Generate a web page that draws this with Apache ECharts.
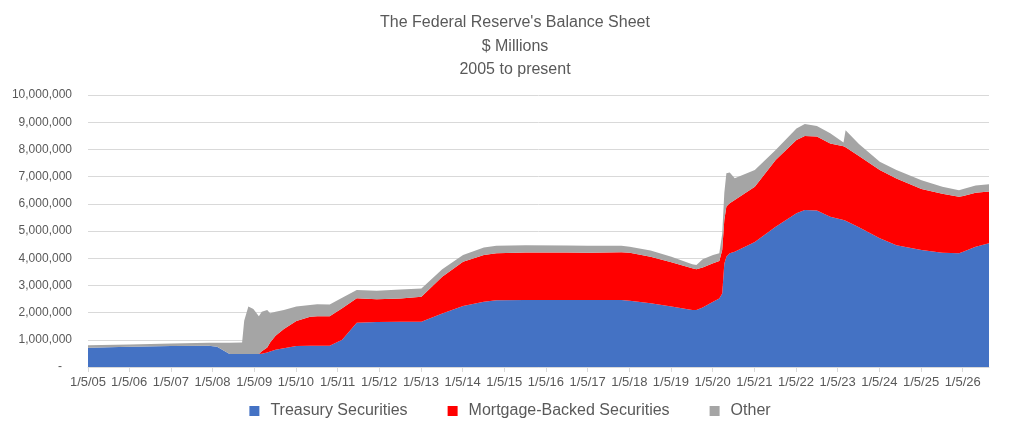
<!DOCTYPE html>
<html style="height: 100%">
<head>
  <meta charset="utf-8">
</head>
<body style="height: 100%; margin: 0; background: #fff;">
  <div id="container" style="width: 1020px; height: 437px;"></div>
  <script src="https://cdn.jsdelivr.net/npm/echarts@6/dist/echarts.min.js"></script>
  <script>
    // 日期用小数年表示 (2005.0 = 1/5/05)
    var dates = [
      2005.0, 2006.0, 2007.0, 2007.9, 2008.1, 2008.4, 2008.7, 2008.75, 2008.85, 2008.97,
      2009.1, 2009.17, 2009.3, 2009.37, 2009.5, 2009.7, 2010.0, 2010.33, 2010.5, 2010.8,
      2011.1, 2011.45, 2011.93, 2012.5, 2013.0, 2013.5, 2014.0, 2014.5, 2014.8, 2015.5,
      2016.5, 2017.0, 2017.8, 2018.0, 2018.5, 2019.0, 2019.5, 2019.6, 2019.75, 2020.0,
      2020.15, 2020.22, 2020.27, 2020.32, 2020.4, 2020.52, 2021.0, 2021.5, 2022.0, 2022.2,
      2022.49, 2022.81, 2023.13, 2023.18, 2023.5, 2024.0, 2024.4, 2025.0, 2025.5, 2025.9,
      2026.0, 2026.3, 2026.62
    ];
    var treasury = [
      710000, 740000, 770000, 780000, 740000, 480000, 480000, 480000, 480000, 480000,
      480000, 490000, 530000, 570000, 630000, 690000, 770000, 780000, 780000, 780000,
      1000000, 1630000, 1650000, 1660000, 1660000, 1970000, 2240000, 2400000, 2450000, 2460000,
      2460000, 2460000, 2460000, 2440000, 2340000, 2220000, 2100000, 2100000, 2190000, 2400000,
      2520000, 2700000, 3800000, 4050000, 4180000, 4240000, 4600000, 5160000, 5650000, 5770000,
      5750000, 5520000, 5400000, 5380000, 5140000, 4730000, 4480000, 4300000, 4200000, 4180000,
      4240000, 4420000, 4550000
    ];
    var mbs = [
      0, 0, 0, 0, 0, 0, 0, 0, 0, 0,
      0, 90000, 190000, 330000, 520000, 710000, 920000, 1070000, 1090000, 1090000,
      1160000, 900000, 840000, 860000, 920000, 1350000, 1630000, 1720000, 1730000, 1750000,
      1750000, 1740000, 1760000, 1760000, 1710000, 1630000, 1530000, 1490000, 1470000, 1410000,
      1380000, 1600000, 1600000, 1850000, 1840000, 1900000, 2030000, 2450000, 2700000, 2720000,
      2720000, 2700000, 2720000, 2700000, 2620000, 2510000, 2450000, 2240000, 2170000, 2080000,
      2050000, 1990000, 1900000
    ];
    var other = [
      90000, 90000, 90000, 110000, 150000, 410000, 420000, 1220000, 1740000, 1650000,
      1390000, 1450000, 1380000, 1080000, 880000, 700000, 530000, 430000, 440000, 430000,
      390000, 300000, 310000, 330000, 310000, 270000, 250000, 270000, 280000, 270000,
      260000, 260000, 240000, 220000, 230000, 200000, 150000, 160000, 300000, 310000,
      280000, 600000, 1000000, 1220000, 1130000, 800000, 610000, 370000, 420000, 440000,
      390000, 370000, 130000, 620000, 440000, 310000, 310000, 330000, 260000, 240000,
      250000, 260000, 270000
    ];
    var seriesNames = ['Treasury Securities', 'Mortgage-Backed Securities', 'Other'];
    var seriesColors = ['#4472C4', '#FF0000', '#A5A5A5'];

    var DAY = 86400000;
    // 小数年 -> 时间戳, 以每年 1 月 5 日为起点
    function toTime(y) {
      var yr = Math.floor(y + 1e-9);
      return Date.UTC(yr, 0, 5) + (y - yr) * 365.25 * DAY;
    }

    function pairs(vals) {
      return dates.map(function (d, i) { return [toTime(d), vals[i]]; });
    }

    function areaSeries(idx, vals) {
      return {
        name: seriesNames[idx],
        type: 'line',
        stack: 'total',
        showSymbol: false,
        symbol: 'none',
        lineStyle: { width: 0 },
        areaStyle: { color: seriesColors[idx], opacity: 1 },
        itemStyle: { color: seriesColors[idx] },
        emphasis: { disabled: true },
        data: pairs(vals)
      };
    }

    var chart = echarts.init(document.getElementById('container'));
    var option = {
      animation: false,
      textStyle: { fontFamily: 'Liberation Sans, Arial, sans-serif' },
      title: {
        text: "The Federal Reserve's Balance Sheet\n$ Millions\n2005 to present",
        left: 510,
        textAlign: 'center',
        top: 6,
        textStyle: {
          fontSize: 16,
          fontWeight: 'normal',
          color: '#595959',
          lineHeight: 23.5
        }
      },
      legend: {
        bottom: 13,
        left: 'center',
        icon: 'rect',
        itemWidth: 10,
        itemHeight: 10,
        itemGap: 40,
        textStyle: { fontSize: 16, color: '#595959', padding: [0, 0, 0, 6] },
        data: seriesNames
      },
      grid: {
        left: 88,
        right: 31,
        top: 95,
        bottom: 70
      },
      xAxis: {
        type: 'time',
        min: toTime(dates[0]),
        max: toTime(dates[dates.length - 1]),
        splitNumber: 21,
        minInterval: 360 * DAY,
        maxInterval: 370 * DAY,
        splitLine: { show: false },
        axisLine: { lineStyle: { color: '#D9D9D9' } },
        axisTick: { show: true, length: 5, lineStyle: { color: '#D9D9D9' } },
        axisLabel: {
          color: '#595959',
          fontSize: 13,
          margin: 9,
          hideOverlap: false,
          showMinLabel: true,
          showMaxLabel: false,
          formatter: function (v) {
            var d = new Date(v + 10 * DAY);
            return '1/5/' + String(d.getUTCFullYear()).slice(2);
          }
        }
      },
      yAxis: {
        type: 'value',
        min: 0,
        max: 10000000,
        interval: 1000000,
        axisLine: { show: false },
        axisTick: { show: false },
        splitLine: { lineStyle: { color: '#D9D9D9' } },
        axisLabel: {
          color: '#595959',
          fontSize: 12,
          margin: 16,
          formatter: function (v) {
            if (v === 0) return '-   ';
            return v.toLocaleString('en-US');
          }
        }
      },
      series: [
        areaSeries(0, treasury),
        areaSeries(1, mbs),
        areaSeries(2, other)
      ]
    };
    chart.setOption(option);
  </script>
</body>
</html>
